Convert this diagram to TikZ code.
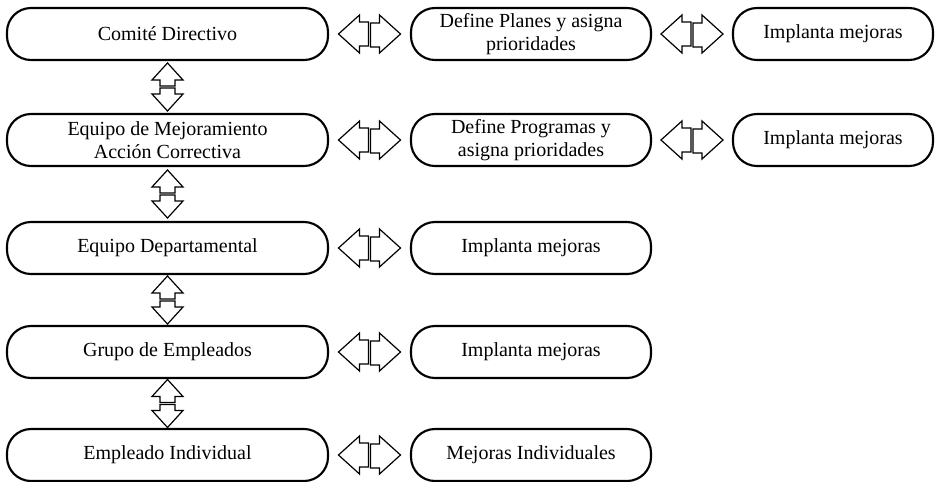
\documentclass[tikz,border=0pt]{standalone}
\usepackage{fontspec}
\setmainfont{Liberation Serif}
\usetikzlibrary{calc}
\begin{document}
\begin{tikzpicture}[x=0.75pt,y=-0.75pt,
  stage/.style={draw, line width=1.6pt, rounded corners=18pt, align=center,
    font=\fontsize{15}{17.5}\selectfont, inner sep=0pt, minimum height=52*0.75pt},
  wide/.style={stage, minimum width=321*0.75pt},
  mid/.style={stage, minimum width=240*0.75pt},
  narrow/.style={stage, minimum width=200*0.75pt},
  blockarrow/.style={draw, line width=0.9pt, fill=white, line join=miter},
  harrow/.pic={
    \draw[blockarrow] (-1,-12) -- (-10,-12) -- (-10,-19) -- (-31,0) -- (-10,19) -- (-10,12) -- (-1,12) -- cycle;
    \draw[blockarrow] (1,-11) -- (10,-11) -- (10,-19) -- (31,0) -- (10,19) -- (10,13) -- (1,13) -- cycle;
  },
  varrow/.pic={
    \draw[blockarrow] (-7.5,-1) -- (-7.5,-7) -- (-15.5,-7) -- (0,-24) -- (15.5,-7) -- (7.5,-7) -- (7.5,-1) -- cycle;
    \draw[blockarrow] (-7.5,1) -- (-7.5,7) -- (-15.5,7) -- (0,24) -- (15.5,7) -- (7.5,7) -- (7.5,1) -- cycle;
  }]
\useasboundingbox (0,0) rectangle (936,482);

% left column: levels of the organisation
\node[wide] (comite) at (167.5,34) {Comité Directivo};
\node[wide] (mejora) at (167.5,140) {Equipo de Mejoramiento\\Acción Correctiva};
\node[wide] (depto)  at (167.5,248) {Equipo Departamental};
\node[wide] (grupo)  at (167.5,352) {Grupo de Empleados};
\node[wide] (indiv)  at (167.5,455) {Empleado Individual};

% middle column
\node[mid] (planes)  at (531,34)  {Define Planes y asigna\\prioridades};
\node[mid] (progs)   at (531,140) {Define Programas y\\asigna prioridades};
\node[mid] (impl3)   at (531,248) {Implanta mejoras};
\node[mid] (impl4)   at (531,352) {Implanta mejoras};
\node[mid] (mejind)  at (531,455) {Mejoras Individuales};

% right column
\node[narrow] (impl1) at (833,34)  {Implanta mejoras};
\node[narrow] (impl2) at (833,140) {Implanta mejoras};

% vertical double arrows between levels
\pic at ($(comite.south)!.5!(mejora.north)$) {varrow};
\pic at ($(mejora.south)!.5!(depto.north)$) {varrow};
\pic at ($(depto.south)!.5!(grupo.north)$) {varrow};
\pic at ($(grupo.south)!.5!(indiv.north)$) {varrow};

% horizontal double arrows
\pic at ($(comite.east)!.5!(planes.west)$) {harrow};
\pic at ($(mejora.east)!.5!(progs.west)$) {harrow};
\pic at ($(depto.east)!.5!(impl3.west)$) {harrow};
\pic at ($(grupo.east)!.5!(impl4.west)$) {harrow};
\pic at ($(indiv.east)!.5!(mejind.west)$) {harrow};
\pic at ($(planes.east)!.5!(impl1.west)$) {harrow};
\pic at ($(progs.east)!.5!(impl2.west)$) {harrow};
\end{tikzpicture}
\end{document}
